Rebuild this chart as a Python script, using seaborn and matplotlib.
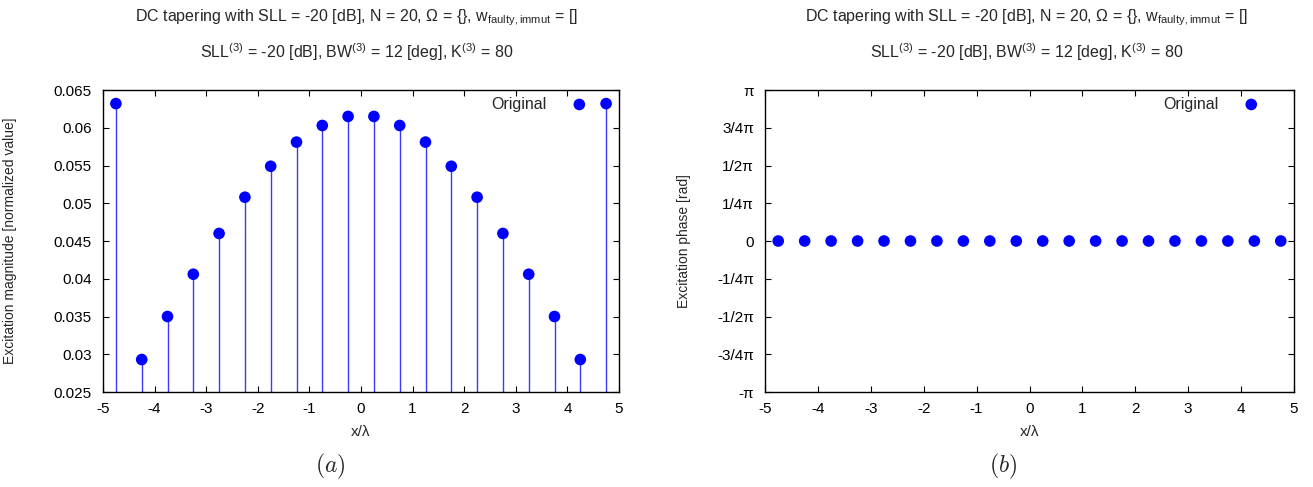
import numpy as np
import pandas as pd
import matplotlib
matplotlib.use("Agg")
import matplotlib.pyplot as plt
import seaborn as sns

# ---- data ----
positions = [-4.75, -4.25, -3.75, -3.25, -2.75, -2.25, -1.75, -1.25, -0.75, -0.25,
             0.25, 0.75, 1.25, 1.75, 2.25, 2.75, 3.25, 3.75, 4.25, 4.75]
magnitudes = [0.0632, 0.0293, 0.0350, 0.0406, 0.0460, 0.0508, 0.0549, 0.0581, 0.0603, 0.0615,
              0.0615, 0.0603, 0.0581, 0.0549, 0.0508, 0.0460, 0.0406, 0.0350, 0.0293, 0.0632]
phases = [0.0] * 20
x_ticks = [-5, -4, -3, -2, -1, 0, 1, 2, 3, 4, 5]
mag_ticks = [0.025, 0.03, 0.035, 0.04, 0.045, 0.05, 0.055, 0.06, 0.065]
mag_tick_labels = ["0.025", "0.03", "0.035", "0.04", "0.045", "0.05", "0.055", "0.06", "0.065"]
phase_tick_fracs = [-1, -0.75, -0.5, -0.25, 0, 0.25, 0.5, 0.75, 1]
phase_tick_labels = ["-π", "-3/4π", "-1/2π", "-1/4π", "0", "1/4π", "1/2π", "3/4π", "π"]

title1 = r"DC tapering with SLL = -20 [dB], N = 20, Ω = {}, w$_{\mathregular{faulty,immut}}$ = []"
title2 = r"SLL$^{\mathregular{(3)}}$ = -20 [dB], BW$^{\mathregular{(3)}}$ = 12 [deg], K$^{\mathregular{(3)}}$ = 80"

df = pd.DataFrame({"x": positions, "mag": magnitudes, "phase": phases})

sns.set_theme(style="ticks")
plt.rcParams["font.family"] = ["Liberation Sans", "DejaVu Sans"]
plt.rcParams["mathtext.fontset"] = "custom"
plt.rcParams["mathtext.rm"] = "Liberation Sans"
plt.rcParams["mathtext.it"] = "Liberation Sans:italic"
plt.rcParams["mathtext.bf"] = "Liberation Sans:bold"
plt.rcParams["axes.edgecolor"] = "black"
plt.rcParams["axes.linewidth"] = 1.0

W, H = 1313, 487
fig = plt.figure(figsize=(W / 100, H / 100), dpi=100)

def fx(px):
    return px / W

def fy(py):
    return 1 - py / H

axL = fig.add_axes([fx(103), fy(392), fx(619) - fx(103), fy(90) - fy(392)])
axR = fig.add_axes([fx(765), fy(392), fx(1294) - fx(765), fy(90) - fy(392)])

FS_T = 11.5   # titles / legend
FS_K = 11     # tick labels
FS_Y = 10     # y labels
FS_X = 11     # x labels
blue = "#0000ff"

# Left panel: stems + markers
axL.vlines(df["x"], 0.025, df["mag"], color="#3a3aff", lw=1.0, zorder=2)
sns.scatterplot(data=df, x="x", y="mag", ax=axL, color=blue, s=70, edgecolor="none",
                label="Original", zorder=3, clip_on=False)
axL.set_xlim(-5, 5)
axL.set_ylim(0.025, 0.065)
axL.set_yticks(mag_ticks)
axL.set_yticklabels(mag_tick_labels)
axL.set_ylabel("Excitation magnitude [normalized value]", fontsize=FS_Y)

# Right panel: markers only
sns.scatterplot(data=df, x="x", y="phase", ax=axR, color=blue, s=70, edgecolor="none",
                label="Original", zorder=3)
axR.set_xlim(-5, 5)
axR.set_ylim(-np.pi, np.pi)
axR.set_yticks([f * np.pi for f in phase_tick_fracs])
axR.set_yticklabels(phase_tick_labels)
axR.set_ylabel("Excitation phase [rad]", fontsize=FS_Y)

for ax in (axL, axR):
    ax.set_xticks(x_ticks)
    ax.set_xticklabels([str(t) for t in x_ticks])
    ax.set_xlabel("x/λ", fontsize=FS_X, labelpad=7)
    ax.tick_params(direction="in", length=4, width=0.8, top=True, right=True,
                   labelsize=FS_K, colors="black")
    ax.tick_params(axis="y", pad=8)
    ax.tick_params(axis="x", pad=7)
    for s in ax.spines.values():
        s.set_visible(True)
        s.set_color("black")
    ax.legend(loc="upper right", markerfirst=False, frameon=False, fontsize=FS_T,
              handletextpad=1.3, borderaxespad=0.3, handlelength=1.5,
              bbox_to_anchor=(0.968 if ax is axL else 0.963, 1.015))

axL.yaxis.set_label_coords((fx(17) - fx(103)) / (fx(619) - fx(103)), 0.5)
axR.yaxis.set_label_coords((fx(691) - fx(765)) / (fx(1294) - fx(765)), 0.5)

# Titles
for cx in (357, 1027):
    fig.text(fx(cx), fy(18), title1, ha="center", va="center", fontsize=FS_T)
    fig.text(fx(cx), fy(52), title2, ha="center", va="center", fontsize=FS_T)

fig.text(fx(330), fy(466), r"$(a)$", ha="center", va="center", fontsize=17, math_fontfamily="cm")
fig.text(fx(1003), fy(466), r"$(b)$", ha="center", va="center", fontsize=17, math_fontfamily="cm")

fig.savefig("out.png", dpi=100)
